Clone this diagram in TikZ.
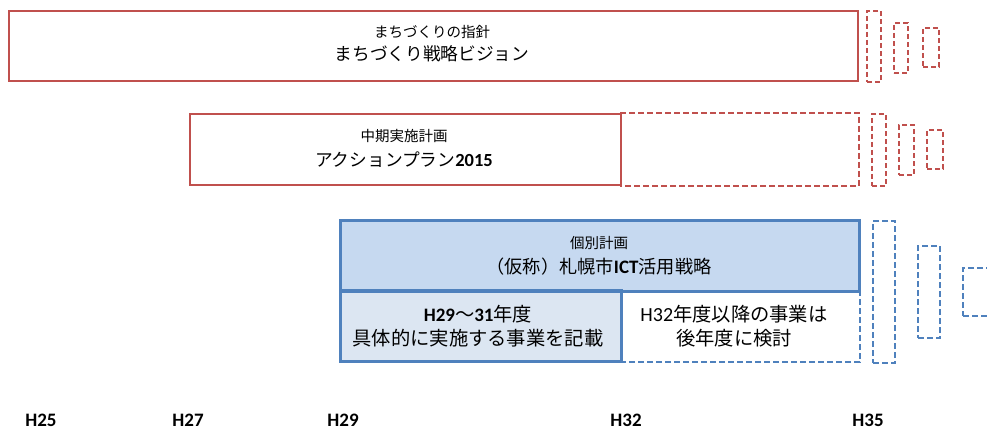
\documentclass[tikz,border=0pt]{standalone}
\usepackage{fontspec}
\setmainfont{Carlito}
\newfontfamily\jp{Noto Sans CJK JP}
\newfontfamily\calf{Carlito}
\definecolor{cred}{HTML}{C0504D}
\definecolor{cblue}{HTML}{4F81BD}
\definecolor{bfill}{HTML}{C6D9F0}
\definecolor{lfill}{HTML}{DCE6F2}
\tikzset{
  box/.style={rectangle, inner sep=0pt, anchor=north west, line width=2pt},
  redbox/.style={box, draw=cred},
  bluebox/.style={box, draw=cblue},
  rdash/.style={box, draw=cred, dash pattern=on 5pt off 3pt},
  bdash/.style={box, draw=cblue, dash pattern=on 6pt off 3pt},
  small/.style={font=\jp\fontsize{14.5}{17}\selectfont},
  big/.style={font=\jp\fontsize{17.7}{20}\selectfont},
  low/.style={font=\jp\fontsize{19.3}{22}\selectfont},
  year/.style={font=\calf\bfseries\fontsize{19}{22}\selectfont, anchor=base, inner sep=0pt},
}
\newcommand\latb[1]{{\calf\bfseries\fontsize{19}{20}\selectfont #1}}
\newcommand\latr[1]{{\calf\fontsize{20}{20}\selectfont #1}}
\begin{document}
\begin{tikzpicture}[x=1pt,y=-1pt]
\useasboundingbox (0,0) rectangle (987,430);
\clip (0,0) rectangle (987,430);
% row 1
\node[redbox, minimum width=849pt, minimum height=70pt] (vision) at (8,10) {};
\node[small] (vision-s) at (432,32) {まちづくりの指針};
\node[big] (vision-m) at (432,54) {まちづくり戦略ビジョン};
\node[rdash, minimum width=14pt, minimum height=71pt] (v1) at (866,10) {};
\node[rdash, minimum width=14pt, minimum height=50pt] (v2) at (893,22) {};
\node[rdash, minimum width=16pt, minimum height=39pt] (v3) at (922,27) {};
% row 2
\node[redbox, minimum width=431pt, minimum height=71pt] (ap) at (189,113) {};
\node[box, minimum width=237pt, minimum height=71pt] (apx) at (620,113) {};
\draw[cred, line width=2pt, dash pattern=on 6pt off 3pt] (apx.north west) -- (apx.north east) -- (apx.south east) -- (apx.south west);
\node[small] (ap-s) at (404,136) {中期実施計画};
\node[big] (ap-m) at (404,160) {アクションプラン{\calf\bfseries\fontsize{18.5}{20}\selectfont 2015}};
\node[rdash, minimum width=14pt, minimum height=72pt] (a1) at (871,113) {};
\node[rdash, minimum width=15pt, minimum height=50pt] (a2) at (898,124) {};
\node[rdash, minimum width=16pt, minimum height=39pt] (a3) at (926,129) {};
% row 3
\node[bluebox, fill=bfill, minimum width=518pt, minimum height=70pt] (ict) at (340,220) {};
\node[bluebox, fill=lfill, minimum width=280pt, minimum height=70pt] (ictl) at (340,290) {};
\node[box, minimum width=238pt, minimum height=70pt] (ictr) at (620,290) {};
\draw[cblue, line width=2pt, dash pattern=on 6pt off 3pt] (ictr.north east) -- (ictr.south east) -- (ictr.south west);
\draw[cblue, line width=2pt] (ict.north west) rectangle (ict.south east);
\draw[cblue, line width=2pt] (ictl.north west) rectangle (ictl.south east);
\node[small] (ict-s) at (599,243) {個別計画};
\node[big, font=\jp\fontsize{18.2}{20}\selectfont] (ict-m) at (599,267) {（仮称）札幌市{\calf\bfseries\fontsize{19}{20}\selectfont ICT}活用戦略};
\node[low] (l1) at (478,314) {\latb{H29}～\latb{31}年度};
\node[low] (l2) at (478,338) {具体的に実施する事業を記載};
\node[low] (r1) at (734,314) {\latr{H32}年度以降の事業は};
\node[low] (r2) at (734,338) {後年度に検討};
\node[bdash, minimum width=22pt, minimum height=142pt] (b1) at (872,220) {};
\node[bdash, minimum width=22pt, minimum height=92pt] (b2) at (917,245) {};
\node[bdash, minimum width=40pt, minimum height=48pt] (b3) at (962,267) {};
% years
\node[year] (h25) at (41,426) {H25};
\node[year] (h27) at (188,426) {H27};
\node[year] (h29) at (343,426) {H29};
\node[year] (h32) at (626,426) {H32};
\node[year] (h35) at (868,426) {H35};
\end{tikzpicture}
\end{document}
